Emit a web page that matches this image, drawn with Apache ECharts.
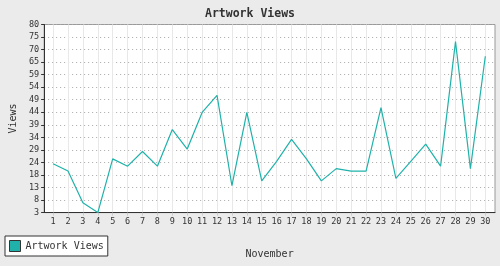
<!DOCTYPE html>
<html><head><meta charset="utf-8">
<script src="https://cdn.jsdelivr.net/npm/echarts@6/dist/echarts.min.js"></script>
<style>html,body{margin:0;padding:0;background:#ebebeb}#c{width:500px;height:266px}</style>
</head><body><div id="c"></div>
<script>
const days = [1,2,3,4,5,6,7,8,9,10,11,12,13,14,15,16,17,18,19,20,21,22,23,24,25,26,27,28,29,30];
const views = [23,20,7,3,25,22,28,22,37,29,44,51,14,44,16,24,33,25,16,21,20,20,46,17,24,31,22,73,21,67];
const yMin = 3, yMax = 80, ySteps = 15;
const yTickLabels = [3,8,13,18,24,29,34,39,44,49,54,59,65,70,75,80];
const yTickValues = yTickLabels.map((_, i) => yMin + i * (yMax - yMin) / ySteps);
const F = 'DejaVu Sans Mono';
const chart = echarts.init(document.getElementById('c'), null, {renderer: 'canvas'});
chart.setOption({
  backgroundColor: '#ebebeb',
  animation: false,
  title: {text: 'Artwork Views', left: 'center', top: 3,
    textStyle: {fontFamily: F, fontSize: 11.5, fontWeight: 'bold', color: '#333'}},
  legend: {left: 5, top: 236, orient: 'horizontal', backgroundColor: '#fff', borderColor: '#333', borderWidth: 1,
    padding: [4, 4, 4, 4], itemWidth: 11, itemHeight: 11, itemGap: 5,
    icon: 'rect', textStyle: {fontFamily: F, fontSize: 10, color: '#333'},
    itemStyle: {borderColor: '#333', borderWidth: 1}},
  grid: {left: 34, right: 5, top: 24.5, bottom: 53.4, show: true, backgroundColor: '#fff', borderColor: '#999', borderWidth: 1},
  xAxis: {type: 'value', min: 0.4, max: 30.65, name: 'November', nameLocation: 'middle', nameGap: 37,
    nameTextStyle: {fontFamily: F, fontSize: 10, color: '#333'},
    axisLine: {lineStyle: {color: '#333', width: 1}},
    axisTick: {customValues: days, length: 3, lineStyle: {color: '#ccc'}},
    axisLabel: {customValues: days, fontFamily: F, fontSize: 8.5, color: '#333', margin: 5},
    splitLine: {show: true, lineStyle: {color: '#e8e8e8', width: 1, type: 'solid'}}},
  yAxis: {type: 'value', min: yMin, max: yMax, name: 'Views', nameLocation: 'middle', nameGap: 22,
    nameTextStyle: {fontFamily: F, fontSize: 10, color: '#333'},
    axisLine: {show: true, lineStyle: {color: '#333', width: 1}},
    axisTick: {show: true, customValues: yTickValues, length: 3, lineStyle: {color: '#333'}},
    axisLabel: {customValues: yTickValues, fontFamily: F, fontSize: 8.5, color: '#333', margin: 5,
      formatter: v => String(yTickLabels[yTickValues.findIndex(t => Math.abs(t - v) < 1e-6)] ?? Math.round(v))},
    splitLine: {show: true, lineStyle: {color: '#aaa', width: 1, type: [1, 3]}}},
  series: [{type: 'line', name: 'Artwork Views', data: days.map((d, i) => [d, views[i]]),
    showSymbol: false, symbol: 'none', color: '#20b2aa', lineStyle: {width: 1.2, color: '#20b2aa'}}]
});
</script></body></html>
